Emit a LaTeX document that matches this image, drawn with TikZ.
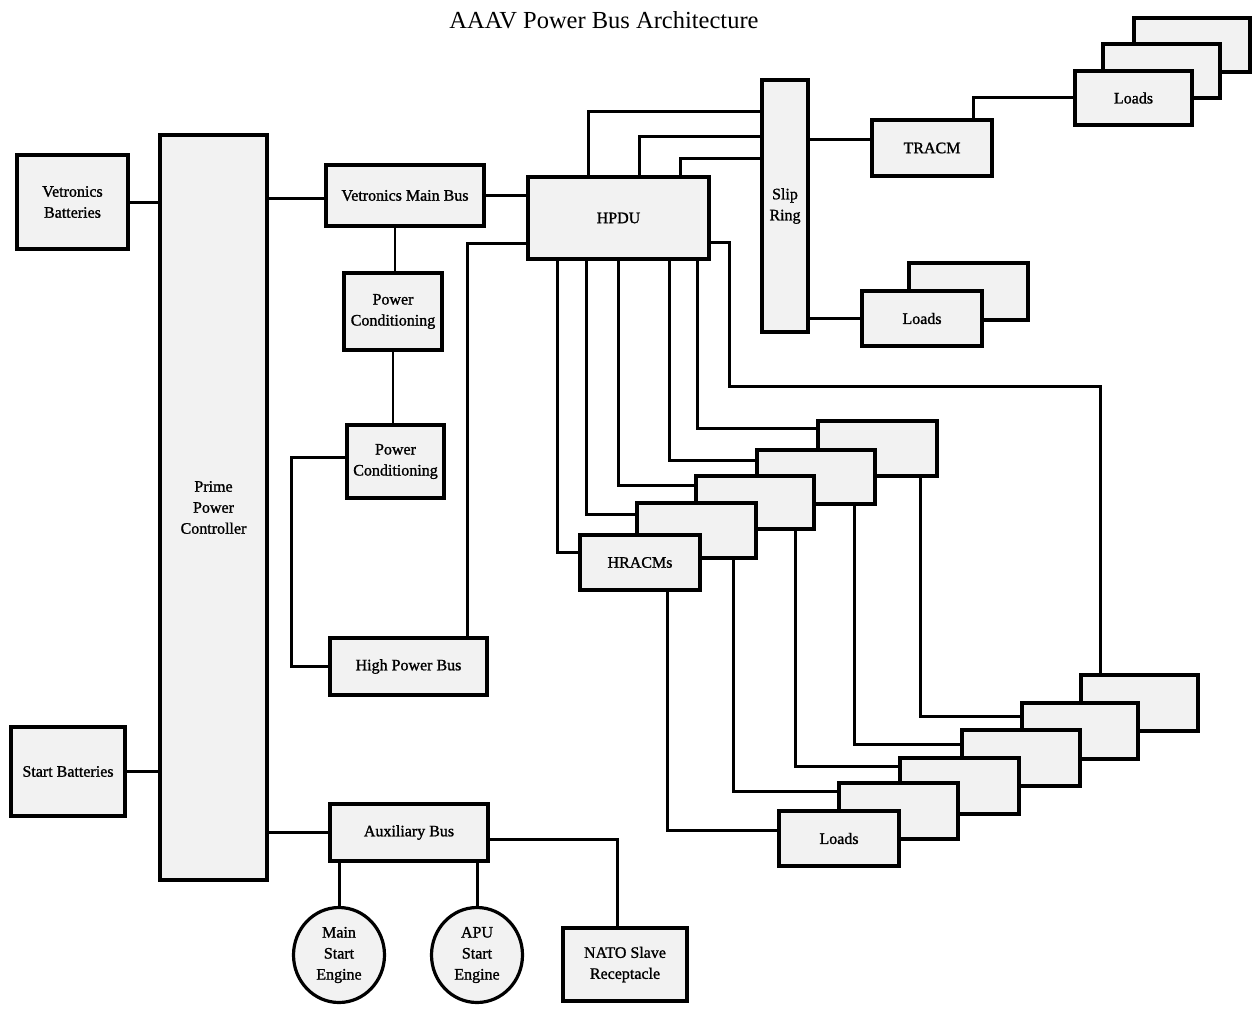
\documentclass[tikz,border=0pt]{standalone}
\usepackage{fontspec}
\setmainfont{Liberation Serif}
\newfontfamily\boxfam[FakeBold=1.2]{Liberation Serif}
\usetikzlibrary{shapes.geometric}
\pgfdeclarelayer{background}
\pgfdeclarelayer{canvas}
\pgfsetlayers{canvas,background,main}
\definecolor{boxfill}{gray}{0.95}
\newcommand{\boxfont}{\boxfam\fontsize{16}{21}\selectfont}
\begin{document}
\begin{tikzpicture}[x=1pt,y=-1pt,
  blk/.style={draw, fill=boxfill, line width=3.2pt, inner sep=0pt, align=center, font=\boxfont},
  sz/.style 2 args={minimum width=#1pt, minimum height=#2pt},
  eng/.style={ellipse, draw, fill=boxfill, line width=3.2pt, inner sep=0pt, align=center, font=\boxfont, minimum width=91pt, minimum height=95pt},
  wire/.style={line width=3pt, line join=miter},
  thinwire/.style={line width=2pt}]
\useasboundingbox (0,0) rectangle (1257,1011);
\begin{pgfonlayer}{canvas}
\fill[white] (0,0) rectangle (1257,1011);
\end{pgfonlayer}

\node[font=\fontsize{24.5}{28}\selectfont] (title) at (604,20) {AAAV Power Bus Architecture};

% left column
\node[blk, sz={111}{94}] (vbat) at (72.5,202) {Vetronics\\Batteries};
\node[blk, sz={114}{89}] (sbat) at (68,771.5) {Start Batteries};
\node[blk, sz={107}{745}] (ppc) at (213.5,507.5) {Prime\\Power\\Controller};

% middle column
\node[blk, sz={158}{61}] (vmb) at (405,195.5) {Vetronics Main Bus};
\node[blk, sz={98}{77}] (pc1) at (393,311.5) {Power\\Conditioning};
\node[blk, sz={97}{73}] (pc2) at (395.5,461.5) {Power\\Conditioning};
\node[blk, sz={157}{57}] (hpb) at (408.5,666.5) {High Power Bus};
\node[blk, sz={158}{57}] (aux) at (409,832.5) {Auxiliary Bus};
\node[eng] (mse) at (339,955) {Main\\Start\\Engine};
\node[eng] (apu) at (477,955) {APU\\Start\\Engine};
\node[blk, sz={124}{73}] (nato) at (625,964.5) {NATO Slave\\Receptacle};

% HPDU, slip ring
\node[blk, sz={181}{82}] (hpdu) at (618.5,218) {HPDU};
\node[blk, sz={46}{252}] (slip) at (785,206) {Slip\\Ring};
\node[blk, sz={120}{56}] (tracm) at (932,148) {TRACM};

% top loads stack
\node[blk, sz={116}{54}] (la3) at (1192,45) {};
\node[blk, sz={117}{54}] (la2) at (1161.5,71) {};
\node[blk, sz={117}{54}] (la1) at (1133.5,98) {Loads};

% slip ring loads
\node[blk, sz={119}{57}] (lb2) at (968.5,291.5) {};
\node[blk, sz={120}{55}] (lb1) at (922,318.5) {Loads};

% HRACMs stack
\node[blk, sz={119}{55}] (hr5) at (877.5,448.5) {};
\node[blk, sz={118}{54}] (hr4) at (816,477) {};
\node[blk, sz={118}{53}] (hr3) at (755,502.5) {};
\node[blk, sz={119}{55}] (hr2) at (696.5,530.5) {};
\node[blk, sz={120}{55}] (hr1) at (640,562.5) {HRACMs};

% bottom loads stack
\node[blk, sz={117}{56}] (ld6) at (1139.5,703) {};
\node[blk, sz={116}{56}] (ld5) at (1080,731) {};
\node[blk, sz={118}{56}] (ld4) at (1021,758) {};
\node[blk, sz={119}{56}] (ld3) at (959.5,786) {};
\node[blk, sz={119}{56}] (ld2) at (898.5,811) {};
\node[blk, sz={120}{55}] (ld1) at (839,838.5) {Loads};

\begin{pgfonlayer}{background}
% left side
\draw[wire] (vbat.east) -- (vbat.east -| ppc.west);
\draw[wire] (sbat.east) -- (sbat.east -| ppc.west);
\draw[wire] ([yshift=-2.5pt]vmb.west) -- ([yshift=-2.5pt]vmb.west -| ppc.east);
\draw[wire] (aux.west) -- (aux.west -| ppc.east);
% power conditioning chain
\draw[thinwire] ([xshift=2pt]pc1.north) -- ([xshift=2pt]pc1.north |- vmb.south);
\draw[thinwire] (pc1.south) -- (pc1.south |- pc2.north);
\draw[wire] ([yshift=4.5pt]pc2.west) -- ++(-54,0) |- (hpb.west);
\draw[wire] ([xshift=58.5pt]hpb.north) |- ([yshift=-25pt]hpdu.west);
\draw[wire] (vmb.east) -- (vmb.east -| hpdu.west);
% HPDU to slip ring
\draw[wire] ([xshift=62pt]hpdu.north west) |- ([yshift=94pt]slip.west);
\draw[wire] ([xshift=113pt]hpdu.north west) |- ([yshift=69pt]slip.west);
\draw[wire] ([xshift=154pt]hpdu.north west) |- ([yshift=47pt]slip.west);
% slip ring outputs
\draw[wire] ([yshift=8pt]tracm.west) -- ([yshift=8pt]tracm.west -| slip.east);
\draw[wire] ([xshift=41pt]tracm.north) |- (la1.west);
\draw[wire] (lb1.west) -- (lb1.west -| slip.east);
% HPDU to bottom-right loads
\draw[wire] ([yshift=-24pt]hpdu.east) -- ++(19,0) -- ++(0,144) -| ([xshift=-39.5pt]ld6.north);
% HPDU to HRACMs
\draw[wire] ([xshift=31pt]hpdu.south west) |- ([yshift=10.5pt]hr1.west);
\draw[wire] ([xshift=60pt]hpdu.south west) |- ([yshift=16.5pt]hr2.west);
\draw[wire] ([xshift=92pt]hpdu.south west) |- ([yshift=17.5pt]hr3.west);
\draw[wire] ([xshift=143pt]hpdu.south west) |- ([yshift=17pt]hr4.west);
\draw[wire] ([xshift=171pt]hpdu.south west) |- ([yshift=20.5pt]hr5.west);
% HRACMs to loads
\draw[wire] ([xshift=27pt]hr1.south) |- ([yshift=8.5pt]ld1.west);
\draw[wire] ([xshift=36.5pt]hr2.south) |- ([yshift=20pt]ld2.west);
\draw[wire] ([xshift=40pt]hr3.south) |- ([yshift=20pt]ld3.west);
\draw[wire] ([xshift=38pt]hr4.south) |- ([yshift=14pt]ld4.west);
\draw[wire] ([xshift=42.5pt]hr5.south) |- ([yshift=15pt]ld5.west);
% auxiliary bus
\draw[wire] (mse.north) -- (mse.north |- aux.south);
\draw[wire] (apu.north) -- (apu.north |- aux.south);
\draw[wire] ([yshift=-6.5pt]aux.east) -| ([xshift=-8pt]nato.north);
\end{pgfonlayer}
\end{tikzpicture}
\end{document}
